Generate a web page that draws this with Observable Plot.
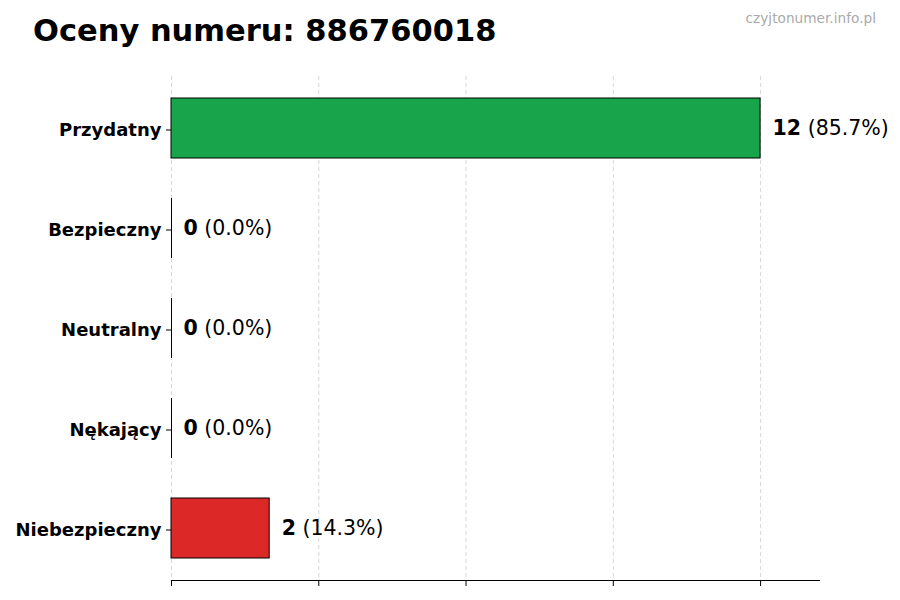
<!DOCTYPE html>
<html><head><meta charset="utf-8">
<script src="https://cdn.jsdelivr.net/npm/d3@7"></script>
<script src="https://cdn.jsdelivr.net/npm/@observablehq/plot@0.6"></script>
<style>
body{margin:0;background:#fff;font-family:"DejaVu Sans",sans-serif;}
#wrap{position:relative;width:900px;height:600px;}
#title{position:absolute;left:33px;top:16px;font-size:30.5px;font-weight:bold;line-height:1;color:#000;}
#wm{position:absolute;right:24px;top:10px;font-size:13.7px;color:#aaa;}
#chart{position:absolute;left:0;top:0;}
</style></head><body>
<div id="wrap"><div id="chart"></div><div id="title">Oceny numeru: 886760018</div><div id="wm">czyjtonumer.info.pl</div></div>
<script>
const categories = ["Przydatny","Bezpieczny","Neutralny","Nękający","Niebezpieczny"];
const counts = [12,0,0,0,2];
const colors = ["#17a44a","#3b82f6","#9ca3af","#f97316","#dd2828"];
const xTicks = [0,3,6,9,12];
const xMax = 13.2;

const total = d3.sum(counts);
const data = categories.map((c,i)=>({
  category:c, count:counts[i], color:colors[i],
  label:`${counts[i]} (${(100*counts[i]/total).toFixed(1)}%)`
}));

const plot = Plot.plot({
  width:900, height:600,
  marginTop:76, marginBottom:20, marginLeft:171, marginRight:81,
  style:{fontFamily:"DejaVu Sans", background:"white", color:"black"},
  x:{domain:[0,xMax], axis:null},
  y:{domain:categories, paddingInner:0.4, paddingOuter:0.22, axis:null},
  color:{type:"identity"},
  marks:[
    Plot.gridX(xTicks, {stroke:"#b8b8b8", strokeOpacity:0.7, strokeDasharray:"4,3", strokeWidth:0.8}),
    Plot.barX(data, {x:"count", y:"category", fill:"color", stroke:"black", strokeWidth:1}),
    Plot.tickX(data.filter(d=>d.count===0), {x:"count", y:"category", stroke:"black", strokeWidth:1}),
    Plot.axisX({ticks:xTicks, tickFormat:()=>"", tickSize:6, stroke:"black", label:null}),
    Plot.frame({anchor:"bottom", stroke:"black", strokeWidth:1.2}),
    Plot.axisY({tickSize:5, tickPadding:5, fontSize:18, fontWeight:"bold", stroke:"black", label:null, dy:1.5}),
    Plot.text(data, {x:"count", y:"category", text:"label", textAnchor:"start", dx:12, fontSize:20.5, fill:"black"})
  ]
});
document.getElementById("chart").appendChild(plot);

d3.select(plot).selectAll('g[aria-label="text"] text').each(function(){
  const t = this.textContent;
  const m = t.match(/^(\S+)(.*)$/);
  if(!m) return;
  this.textContent = "";
  this.setAttribute("xml:space","preserve");
  d3.select(this).append("tspan").attr("font-weight","bold").text(m[1]);
  d3.select(this).append("tspan").text(m[2]);
});
</script>
</body></html>
